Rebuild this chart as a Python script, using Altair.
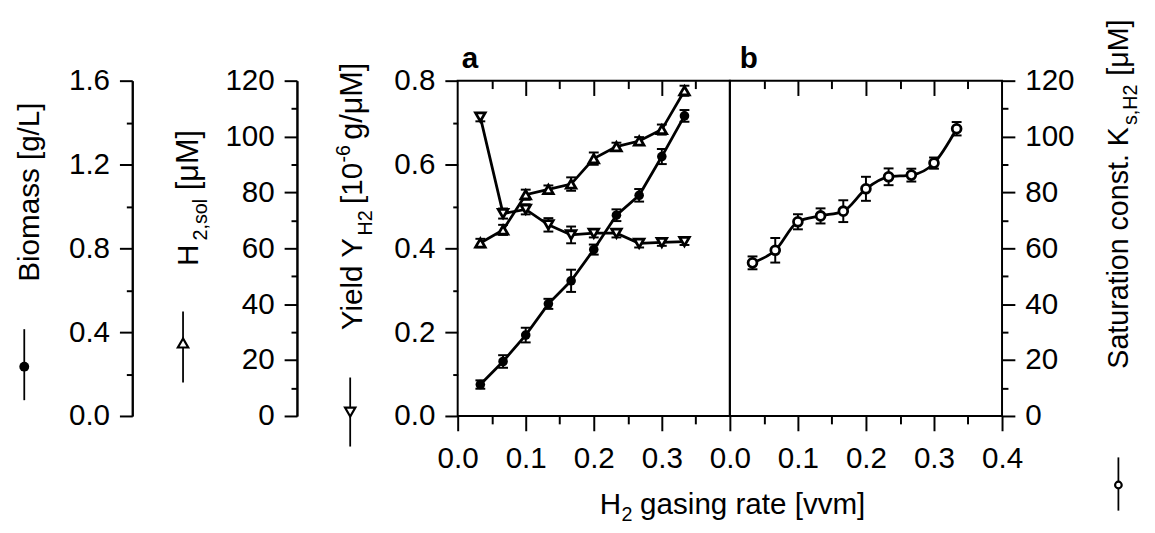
import altair as alt
import pandas as pd

FONT = "Liberation Sans"

# ---------------- data ----------------
rate = [0.0333, 0.0667, 0.1, 0.1333, 0.1667, 0.2, 0.2333, 0.2667, 0.3, 0.3333]
biomass = [0.15, 0.26, 0.386, 0.535, 0.645, 0.794, 0.958, 1.053, 1.238, 1.432]
biomass_err = [0.02, 0.03, 0.035, 0.024, 0.053, 0.024, 0.028, 0.03, 0.036, 0.028]
h2_sol = [61.9, 66.6, 79.2, 81.1, 83.0, 92.1, 96.4, 98.4, 102.5, 116.4]
h2_sol_err = [1.5, 1.8, 1.8, 1.4, 2.4, 2.2, 1.4, 1.4, 1.8, 1.8]
yield_h2 = [0.713, 0.483, 0.493, 0.456, 0.432, 0.436, 0.436, 0.412, 0.414, 0.416]
yield_err = [0.01, 0.012, 0.012, 0.016, 0.02, 0.01, 0.01, 0.01, 0.008, 0.008]
ks_h2 = [54.8, 59.3, 69.5, 71.6, 73.3, 81.3, 85.6, 86.2, 90.5, 102.8]
ks_err = [2.3, 4.4, 2.7, 2.7, 3.9, 4.3, 3.0, 2.3, 2.0, 2.4]

x_major_a = [0.0, 0.1, 0.2, 0.3]
x_major_b = [0.0, 0.1, 0.2, 0.3, 0.4]
x_minor = [0.05, 0.15, 0.25, 0.35]
x_top = [0.1, 0.2, 0.3]
biomass_ticks = [0.0, 0.4, 0.8, 1.2, 1.6]
biomass_minor = [0.2, 0.6, 1.0, 1.4]
conc_ticks = [0, 20, 40, 60, 80, 100, 120]
conc_minor = [10, 30, 50, 70, 90, 110]
yield_ticks = [0.0, 0.2, 0.4, 0.6, 0.8]
yield_minor = [0.1, 0.3, 0.5, 0.7]

df = pd.DataFrame({
    "rate": rate,
    "biomass": biomass, "biomass_err": biomass_err,
    "h2_sol": h2_sol, "h2_sol_err": h2_sol_err,
    "yield_h2": yield_h2, "yield_err": yield_err,
    "ks_h2": ks_h2, "ks_err": ks_err,
})

W, H = 276, 340
OA = (463, 76)   # page position of panel a plot origin
OB = (739, 76)   # page position of panel b plot origin

xscale = alt.Scale(domain=[0, 0.4], nice=False, zero=False)


def ysc(dom):
    return alt.Scale(domain=dom, nice=False, zero=False)


def series(field, err, dom, shape, filled, interp="linear", size=80):
    base = alt.Chart(df).transform_calculate(
        lo=f"datum.{field} - datum.{err}", hi=f"datum.{field} + datum.{err}")
    x = alt.X("rate:Q", scale=xscale, axis=None)
    s = ysc(dom)
    line = base.mark_line(color="black", strokeWidth=2.8, interpolate=interp).encode(
        x=x, y=alt.Y(f"{field}:Q", scale=s, axis=None))
    bars = base.mark_rule(color="black", strokeWidth=2).encode(
        x=x, y=alt.Y("lo:Q", scale=s, axis=None), y2="hi:Q")
    cap_lo = base.mark_tick(orient="horizontal", size=10, thickness=2, color="black",
                            opacity=1).encode(x=x, y=alt.Y("lo:Q", scale=s, axis=None))
    cap_hi = base.mark_tick(orient="horizontal", size=10, thickness=2, color="black",
                            opacity=1).encode(x=x, y=alt.Y("hi:Q", scale=s, axis=None))
    if filled:
        pts = base.mark_point(shape=shape, filled=True, color="black", size=size, opacity=1).encode(
            x=x, y=alt.Y(f"{field}:Q", scale=s, axis=None))
    else:
        pts = base.mark_point(shape=shape, filled=True, fill="white", stroke="black",
                              strokeWidth=2.8, size=size, opacity=1).encode(
            x=x, y=alt.Y(f"{field}:Q", scale=s, axis=None))
    return [line, bars, cap_lo, cap_hi, pts]


def x_axis(orient, values, tick, labels=False, offset=0):
    ax = alt.Axis(orient=orient, values=values, tickSize=tick, labels=labels, domain=False,
                  title=None, grid=False, offset=offset, format=".1f", labelFlush=False,
                  labelOverlap=False, labelPadding=13)
    return alt.Chart(df).mark_point(opacity=0).encode(
        x=alt.X("rate:Q", scale=xscale, axis=ax))


def y_axis(field, dom, orient, values, tick, offset=0, labels=True, domain=False, fmt=".1f"):
    ax = alt.Axis(orient=orient, values=values, tickSize=tick, labels=labels, domain=domain,
                  title=None, grid=False, offset=offset, format=fmt, labelPadding=10,
                  labelFlush=False, labelOverlap=False)
    return alt.Chart(df).mark_point(opacity=0).encode(
        x=alt.X("rate:Q", scale=xscale, axis=None),
        y=alt.Y(f"{field}:Q", scale=ysc(dom), axis=ax))


def txt(o, text, px, py, size=30, angle=0, align="left", weight="normal"):
    return alt.Chart(pd.DataFrame({"t": [text]})).mark_text(
        align=align, baseline="alphabetic", angle=angle, fontSize=size, font=FONT,
        fontWeight=weight, color="black").encode(
        x=alt.value(px - o[0]), y=alt.value(py - o[1]), text="t:N")


def vrule(o, px, py1, py2, color="black", width=1.8):
    return alt.Chart(pd.DataFrame({"t": [0]})).mark_rule(color=color, strokeWidth=width).encode(
        x=alt.value(px - o[0]), y=alt.value(py1 - o[1]), y2=alt.value(py2 - o[1]))


def sym(o, px, py, shape, filled, size):
    if filled:
        m = alt.Chart(pd.DataFrame({"t": [0]})).mark_point(
            shape=shape, filled=True, color="black", size=size, opacity=1)
    else:
        m = alt.Chart(pd.DataFrame({"t": [0]})).mark_point(
            shape=shape, filled=True, fill="white", stroke="black", strokeWidth=2.2,
            size=size, opacity=1)
    return m.encode(x=alt.value(px - o[0]), y=alt.value(py - o[1]))


# ---------------- panel a ----------------
layers_a = []
layers_a += series("biomass", "biomass_err", [0, 1.6], "circle", True, size=95)
layers_a += series("h2_sol", "h2_sol_err", [0, 120], "triangle-up", False, size=95)
layers_a += series("yield_h2", "yield_err", [0, 0.8], "triangle-down", False, size=95)

layers_a += [
    x_axis("bottom", x_major_a, 15, labels=True),
    x_axis("bottom", x_minor, 8),
    x_axis("top", x_top, 15, offset=-15),
    x_axis("top", x_minor, 8, offset=-8),
    y_axis("yield_h2", [0, 0.8], "left", yield_ticks, 13, offset=0),
    y_axis("yield_h2", [0, 0.8], "left", yield_minor, 5, offset=0, labels=False),
    y_axis("biomass", [0, 1.6], "left", biomass_ticks, 13, offset=330, domain=True),
    y_axis("biomass", [0, 1.6], "left", biomass_minor, 6, offset=330, labels=False, domain=True),
    y_axis("h2_sol", [0, 120], "left", conc_ticks, 13, offset=163, domain=True, fmt="d"),
    y_axis("h2_sol", [0, 120], "left", conc_minor, 6, offset=163, labels=False, domain=True, fmt="d"),
]

layers_a += [
    # white layout anchor fixing the page position of the plot origin
    vrule(OA, 8.5, 8, 12, color="white", width=1),
    txt(OA, "a", 467, 63, size=30, weight="bold"),
    # Biomass title + legend symbol
    txt(OA, "Biomass [g/L]", 38, 189, angle=270, align="center"),
    vrule(OA, 23.5, 328, 400),
    sym(OA, 23.5, 366, "circle", True, 100),
    # H2,sol title + legend symbol
    txt(OA, "H", 200, 264, angle=270),
    txt(OA, "2,sol", 209, 238, size=20, angle=270),
    txt(OA, "[\u03bcM]", 200, 187, size=31, angle=270),
    vrule(OA, 184.5, 310, 382),
    sym(OA, 184.5, 342, "triangle-up", False, 110),
    # Yield title + legend symbol
    txt(OA, "Yield Y", 366, 329, angle=270),
    txt(OA, "H2", 376, 233, size=20, angle=270),
    txt(OA, "[10", 366, 201, angle=270),
    txt(OA, "-6", 354, 159, size=20, angle=270),
    txt(OA, "g/\u03bcM]", 366, 136, size=31, angle=270),
    vrule(OA, 354, 377, 447),
    sym(OA, 354, 412, "triangle-down", False, 110),
    # x title (spanning both panels)
    txt(OA, "H", 607, 515),
    txt(OA, "2", 629, 523, size=20),
    txt(OA, "gasing rate [vvm]", 648, 515),
]

panel_a = alt.layer(*layers_a).resolve_scale(y="independent").resolve_axis(
    x="independent", y="independent").properties(width=W, height=H)

# ---------------- panel b ----------------
layers_b = []
layers_b += series("ks_h2", "ks_err", [0, 120], "circle", False, interp="monotone", size=80)
layers_b += [
    x_axis("bottom", x_major_b, 15, labels=True),
    x_axis("bottom", x_minor, 8),
    x_axis("top", x_top, 15, offset=-15),
    x_axis("top", x_minor, 8, offset=-8),
    y_axis("ks_h2", [0, 120], "right", conc_ticks, 13, fmt="d"),
    y_axis("ks_h2", [0, 120], "right", conc_minor, 6, labels=False, fmt="d"),
    txt(OB, "b", 749, 63, size=30, weight="bold"),
    txt(OB, "Saturation const. K", 1143, 368, size=29, angle=270),
    txt(OB, "s,H2", 1152, 121, size=20, angle=270),
    txt(OB, "[\u03bcM]", 1143, 71, size=29, angle=270),
    vrule(OB, 1133, 458, 512),
    sym(OB, 1133, 486, "circle", False, 45),
]

panel_b = alt.layer(*layers_b).resolve_scale(y="independent").resolve_axis(
    x="independent", y="independent").properties(width=W, height=H)

chart = alt.hconcat(panel_a, panel_b, spacing=0, bounds="flush").properties(
    padding={"left": 0, "top": 0, "right": 5, "bottom": 5}, background="white"
).configure_view(
    stroke="black", strokeWidth=2
).configure_axis(
    labelFont=FONT, labelFontSize=30, labelColor="black", tickColor="black",
    tickWidth=2, domainColor="black", domainWidth=2, grid=False
)

chart.save("out.html", embed_options={"renderer": "svg", "actions": False})
